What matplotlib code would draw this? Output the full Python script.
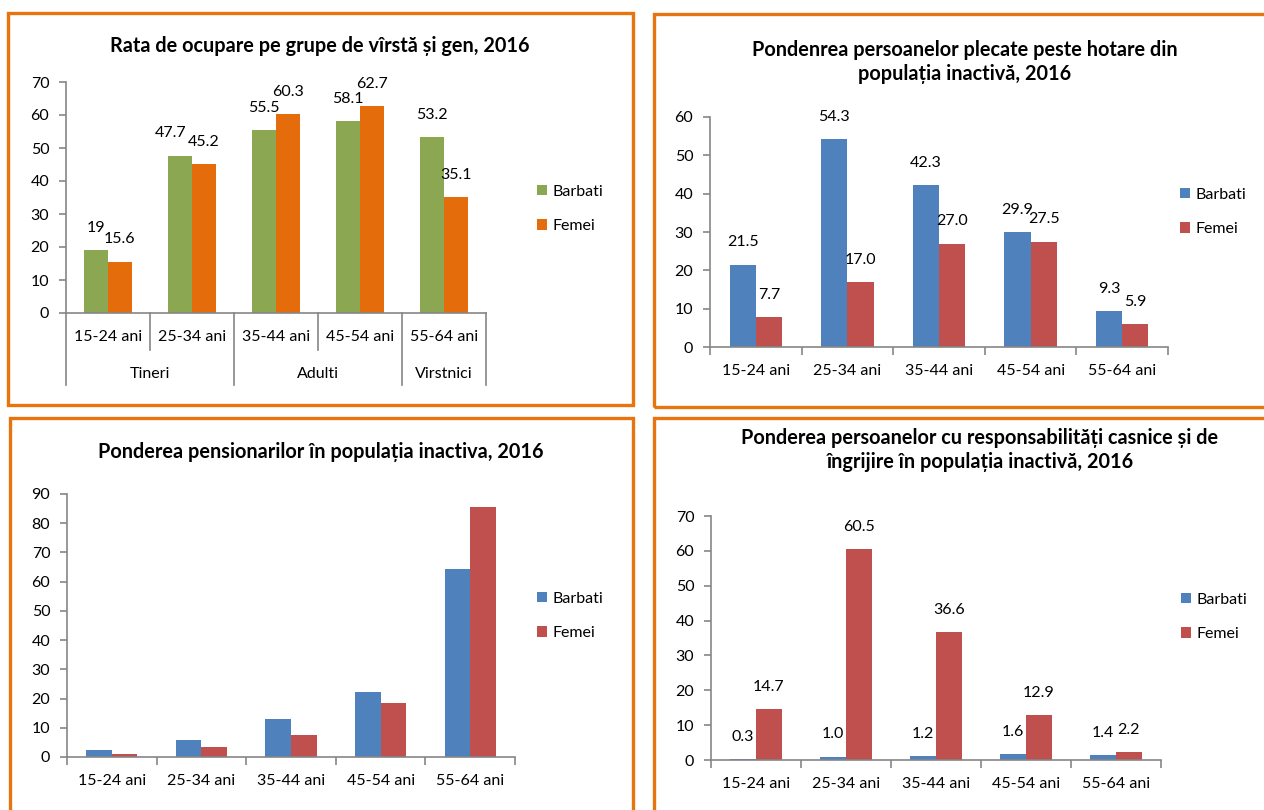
import matplotlib
matplotlib.use("Agg")
import matplotlib.pyplot as plt
import matplotlib.transforms as mtransforms
from matplotlib.patches import Rectangle
import numpy as np

plt.rcParams['font.family'] = ['Lato', 'DejaVu Sans']

# data
age_groups = ['15-24 ani', '25-34 ani', '35-44 ani', '45-54 ani', '55-64 ani']
series_names = ['Barbati', 'Femei']

# panel 1: employment rate by age and sex
ocupare_barbati = [19, 47.7, 55.5, 58.1, 53.2]
ocupare_femei = [15.6, 45.2, 60.3, 62.7, 35.1]
ocupare_lbl_b = ['19', '47.7', '55.5', '58.1', '53.2']
ocupare_lbl_f = ['15.6', '45.2', '60.3', '62.7', '35.1']
life_stages = ['Tineri', 'Adulti', 'Virstnici']
stage_sizes = [2, 2, 1]

# panel 2: people gone abroad, share of inactive population
plecati_barbati = [21.5, 54.3, 42.3, 29.9, 9.3]
plecati_femei = [7.7, 17.0, 27.0, 27.5, 5.9]

# panel 3: pensioners, share of inactive population
pensionari_barbati = [2.3, 5.9, 13.0, 22.3, 64.5]
pensionari_femei = [1.1, 3.3, 7.5, 18.5, 85.5]

# panel 4: household and care responsibilities
casnice_barbati = [0.3, 1.0, 1.2, 1.6, 1.4]
casnice_femei = [14.7, 60.5, 36.6, 12.9, 2.2]

titles = [
    'Rata de ocupare pe grupe de vîrstă și gen, 2016',
    'Pondenrea persoanelor plecate peste hotare din\npopulația inactivă, 2016',
    'Ponderea pensionarilor în populația inactiva, 2016',
    'Ponderea persoanelor cu responsabilități casnice și de\nîngrijire în populația inactivă, 2016',
]

GREEN = '#8BA752'
ORANGE = '#E46C0A'
BLUE = '#4F81BD'
RED = '#C0504D'
AXIS = '#868686'
BORDER = '#E8740F'
FS = 11.5
TFS = 14.3

W, H = 1264, 810
fig = plt.figure(figsize=(W / 100, H / 100), dpi=100)
fig.patch.set_facecolor('white')


def fx(x):
    return x / W


def fy(y):
    return 1 - y / H


def add_axes(x0, y_top, x1, y_bot):
    return fig.add_axes([fx(x0), fy(y_bot), fx(x1) - fx(x0), fy(y_top) - fy(y_bot)])


def border(x0, y0, x1, y1):
    r = Rectangle((fx(x0), fy(y1)), fx(x1) - fx(x0), fy(y0) - fy(y1),
                  transform=fig.transFigure, fill=False, edgecolor=BORDER,
                  linewidth=2.4, clip_on=False)
    fig.patches.append(r)


def style_axes(ax, ymax, step, cat_ticks=True):
    ax.set_ylim(0, ymax)
    ax.set_xlim(0, len(age_groups))
    ax.set_yticks(np.arange(0, ymax + 1, step))
    for s in ['top', 'right']:
        ax.spines[s].set_visible(False)
    for s in ['left', 'bottom']:
        ax.spines[s].set_color(AXIS)
        ax.spines[s].set_linewidth(1.2)
    ax.tick_params(axis='y', direction='out', length=5, width=1.2, color=AXIS,
                   labelsize=FS, pad=7)
    ax.set_xticks(np.arange(len(age_groups)) + 0.5)
    ax.set_xticklabels(age_groups, fontsize=FS)
    ax.tick_params(axis='x', length=0, pad=12)
    if cat_ticks:
        ax.set_xticks(np.arange(len(age_groups) + 1), minor=True)
        ax.tick_params(axis='x', which='minor', direction='out', length=6,
                       width=1.2, color=AXIS)


def draw_bars(ax, vb, vf, cb, cf, lb=None, lf=None, nudge=None):
    # nudge: {(series, index): x offset in points} to keep labels apart
    nudge = nudge or {}
    x = np.arange(len(age_groups)) + 0.5
    w = 0.285
    b1 = ax.bar(x - w / 2, vb, w, color=cb, label=series_names[0])
    b2 = ax.bar(x + w / 2, vf, w, color=cf, label=series_names[1])
    if lb is not None:
        for s, (xs, vals, labs) in enumerate([(x - w / 2, vb, lb), (x + w / 2, vf, lf)]):
            for i, (xi, v, t) in enumerate(zip(xs, vals, labs)):
                dx = nudge.get((s, i), 0)
                ax.annotate(t, (xi, v), xytext=(dx, 16), textcoords='offset points',
                            ha='center', va='center', fontsize=FS)
    return b1, b2


def legend(ax, x, y_mid):
    ax.legend(loc='center left', bbox_to_anchor=(fx(x), fy(y_mid)),
              bbox_transform=fig.transFigure, frameon=False, fontsize=FS,
              handlelength=0.65, handleheight=0.65, handletextpad=0.35,
              labelspacing=1.3, borderpad=0, borderaxespad=0)


# borders
border(8, 13, 633, 405)
border(654, 14, 1290, 407)
border(10, 418, 633, 840)
border(654, 418, 1290, 840)

# panel 1
ax1 = add_axes(66, 82, 486, 313)
style_axes(ax1, 70, 10, cat_ticks=False)
draw_bars(ax1, ocupare_barbati, ocupare_femei, GREEN, ORANGE,
          ocupare_lbl_b, ocupare_lbl_f, nudge={(0, 1): -7})
trans = mtransforms.blended_transform_factory(ax1.transData, ax1.transAxes)
ah = 313 - 82
bounds = np.concatenate([[0], np.cumsum(stage_sizes)])
for xb in range(len(age_groups) + 1):
    depth = 72 if xb in bounds else 37
    ax1.plot([xb, xb], [0, -depth / ah], color=AXIS, lw=1.2,
             transform=trans, clip_on=False)
for i, name in enumerate(life_stages):
    xc = (bounds[i] + bounds[i + 1]) / 2
    ax1.text(xc, -61 / ah, name, transform=trans, ha='center', va='center',
             fontsize=FS)
legend(ax1, 537, 209)
fig.text(fx(320), fy(46), titles[0], ha='center', va='center',
         fontsize=TFS, fontweight='bold')

# panel 2
ax2 = add_axes(710, 117, 1168, 347)
style_axes(ax2, 60, 10)
draw_bars(ax2, plecati_barbati, plecati_femei, BLUE, RED,
          ['%.1f' % v for v in plecati_barbati],
          ['%.1f' % v for v in plecati_femei])
legend(ax2, 1180, 212)
fig.text(fx(965), fy(62), titles[1], ha='center', va='center',
         fontsize=TFS, fontweight='bold', linespacing=1.25)

# panel 3
ax3 = add_axes(67, 494, 515, 757)
style_axes(ax3, 90, 10)
draw_bars(ax3, pensionari_barbati, pensionari_femei, BLUE, RED)
legend(ax3, 537, 616)
fig.text(fx(321), fy(452), titles[2], ha='center', va='center',
         fontsize=TFS, fontweight='bold')

# panel 4
ax4 = add_axes(711, 516, 1161, 760)
style_axes(ax4, 70, 10)
draw_bars(ax4, casnice_barbati, casnice_femei, BLUE, RED,
          ['%.1f' % v for v in casnice_barbati],
          ['%.1f' % v for v in casnice_femei])
legend(ax4, 1181, 617)
fig.text(fx(980), fy(450), titles[3], ha='center', va='center',
         fontsize=TFS, fontweight='bold', linespacing=1.25)

fig.savefig('out.png', dpi=100)
